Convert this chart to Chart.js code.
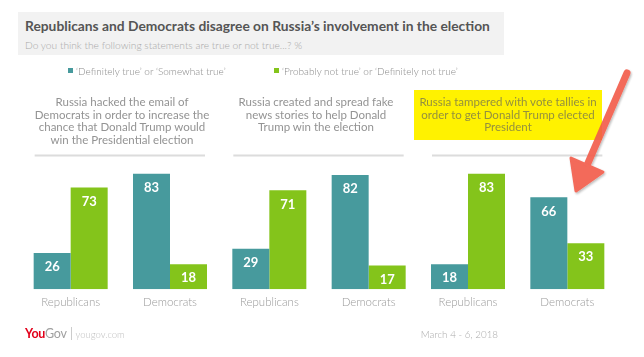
<!DOCTYPE html>
<html>
<head>
<meta charset="utf-8">
<script src="https://cdn.jsdelivr.net/npm/chart.js@4/dist/chart.umd.min.js"></script>
<style>
  html, body { margin: 0; padding: 0; background: #fff; }
  #wrap { position: relative; width: 644px; height: 357px; overflow: hidden; font-family: Lato, "Open Sans", sans-serif; }
  #c { position: absolute; left: 0; top: 0; }
  .abs { position: absolute; white-space: nowrap; }
  #titlebox { position: absolute; left: 18px; top: 12px; width: 486px; height: 43px; background: #f2f2f2; }
  #title { left: 25px; top: 17px; font-size: 13.8px; font-weight: 700; color: #555; line-height: 18px; }
  #subtitle { left: 25px; top: 38px; font-size: 10.2px; color: #a8a8a8; line-height: 14px; font-weight: 300; }
  .leg { top: 64px; font-size: 10px; color: #8a8a8a; line-height: 14px; font-weight: 300; }
  .leg i { display: inline-block; width: 5px; height: 5px; margin-right: 3px; vertical-align: 2px; }
  .ptitle { top: 96px; width: 220px; margin-left: -110px; text-align: center; font-size: 11.5px; line-height: 12.7px; color: #939393; white-space: pre; }
  #hl { position: absolute; left: 414px; top: 90px; width: 188px; height: 50px; background: #fff200; }
  #logo { left: 25px; top: 326px; font-size: 12.5px; line-height: 15px; font-weight: 700; letter-spacing: -0.3px; }
  #logo .you { color: #e2001a; }
  #logo .gov { color: #a0a0a0; font-weight: 400; }
  #logo .sep { display: inline-block; width: 1px; height: 13px; background: #ccc; margin: 0 4px 0 4px; vertical-align: -2px; }
  #logo .url { color: #c0c0c0; font-weight: 300; font-size: 9.5px; letter-spacing: 0; }
  #date { right: 146px; top: 327px; font-size: 9.8px; color: #aaa; line-height: 14px; font-weight: 300; }
  #arrow { position: absolute; left: 0; top: 0; }
</style>
</head>
<body>
<div id="wrap">
  <div id="titlebox"></div>
  <div class="abs" id="title"></div>
  <div class="abs" id="subtitle"></div>
  <div id="hl"></div>
  <canvas id="c" width="644" height="357"></canvas>
  <div class="abs" id="logo"><span class="you">You</span><span class="gov">Gov</span><span class="sep"></span><span class="url">yougov.com</span></div>
  <div class="abs" id="date"></div>
  <svg id="arrow" width="644" height="357">
    <defs>
      <filter id="sh" x="-20%" y="-20%" width="140%" height="140%">
        <feDropShadow dx="1" dy="1.5" stdDeviation="1.2" flood-color="#000" flood-opacity="0.3"/>
      </filter>
    </defs>
    <g filter="url(#sh)" opacity="0.9">
      <line x1="627" y1="73" x2="585" y2="170" stroke="#f25a48" stroke-width="7" stroke-linecap="round"/>
      <polygon points="576,191 571,158 603,172" fill="#f25a48" stroke="#f25a48" stroke-width="3" stroke-linejoin="round"/>
    </g>
  </svg>
</div>
<script>
const titleText = "Republicans and Democrats disagree on Russia\u2019s involvement in the election";
const subtitleText = "Do you think the following statements are true or not true...? %";
const dateText = "March 4 - 6, 2018";

const categories = ["Republicans", "Democrats", "Republicans", "Democrats", "Republicans", "Democrats"];
const seriesNames = ["\u2018Definitely true\u2019 or \u2018Somewhat true\u2019", "\u2018Probably not true\u2019 or \u2018Definitely not true\u2019"];
const trueValues = [26, 83, 29, 82, 18, 66];
const notTrueValues = [73, 18, 71, 17, 83, 33];
const panelTitles = [
  "Russia hacked the email of\nDemocrats in order to increase the\nchance that Donald Trump would\nwin the Presidential election",
  "Russia created and spread fake\nnews stories to help Donald\nTrump win the election",
  "Russia tampered with vote tallies in\norder to get Donald Trump elected\nPresident"
];
const colors = ["#479a9d", "#84c41b"];

document.getElementById('title').textContent = titleText;
document.getElementById('subtitle').textContent = subtitleText;
document.getElementById('date').textContent = dateText;

const wrap = document.getElementById('wrap');
const legendX = [68, 274];
seriesNames.forEach((n, i) => {
  const d = document.createElement('div');
  d.className = 'abs leg';
  d.style.left = legendX[i] + 'px';
  const sq = document.createElement('i');
  sq.style.background = colors[i];
  d.appendChild(sq);
  d.appendChild(document.createTextNode(n));
  wrap.appendChild(d);
});
const panelCenters = [122, 316, 508];
panelTitles.forEach((t, i) => {
  const d = document.createElement('div');
  d.className = 'abs ptitle';
  d.style.left = panelCenters[i] + 'px';
  if (i === 2) d.style.color = '#94903e';
  d.textContent = t;
  wrap.appendChild(d);
});

const panelPlugin = {
  id: 'panels',
  beforeDatasetsDraw(chart) {
    const ctx = chart.ctx;
    const m0 = chart.getDatasetMeta(0), m1 = chart.getDatasetMeta(1);
    ctx.save();
    ctx.strokeStyle = '#dcdcdc';
    ctx.lineWidth = 2;
    for (let p = 0; p < categories.length / 2; p++) {
      const a = m0.data[2 * p], b = m1.data[2 * p + 1];
      const x1 = a.x - a.width / 2 + 1, x2 = b.x + b.width / 2 - 2;
      ctx.beginPath();
      ctx.moveTo(x1, 155.5);
      ctx.lineTo(x2, 155.5);
      ctx.stroke();
    }
    ctx.restore();
  },
  afterDatasetsDraw(chart) {
    const ctx = chart.ctx;
    ctx.save();
    ctx.fillStyle = '#ffffff';
    ctx.font = '700 13px Lato, "Open Sans", sans-serif';
    ctx.textAlign = 'center';
    ctx.textBaseline = 'middle';
    chart.data.datasets.forEach((ds, di) => {
      chart.getDatasetMeta(di).data.forEach((el, i) => {
        ctx.fillText(String(ds.data[i]), el.x, el.y + 14);
      });
    });
    ctx.restore();
  }
};

new Chart(document.getElementById('c'), {
  type: 'bar',
  data: {
    labels: categories,
    datasets: [
      { label: seriesNames[0], data: trueValues, backgroundColor: colors[0] },
      { label: seriesNames[1], data: notTrueValues, backgroundColor: colors[1] }
    ]
  },
  options: {
    responsive: false,
    animation: false,
    events: [],
    categoryPercentage: 0.745,
    barPercentage: 1.0,
    layout: { padding: { left: 21, right: 27, top: 150, bottom: 42 } },
    plugins: { legend: { display: false }, tooltip: { enabled: false } },
    scales: {
      y: { display: false, min: 0, max: 100 },
      x: {
        grid: { display: false, drawTicks: false },
        border: { display: false },
        ticks: { color: '#9a9a9a', padding: 6, font: { family: 'Lato, "Open Sans", sans-serif', size: 11.5, weight: 300 } }
      }
    }
  },
  plugins: [panelPlugin]
});
</script>
</body>
</html>
